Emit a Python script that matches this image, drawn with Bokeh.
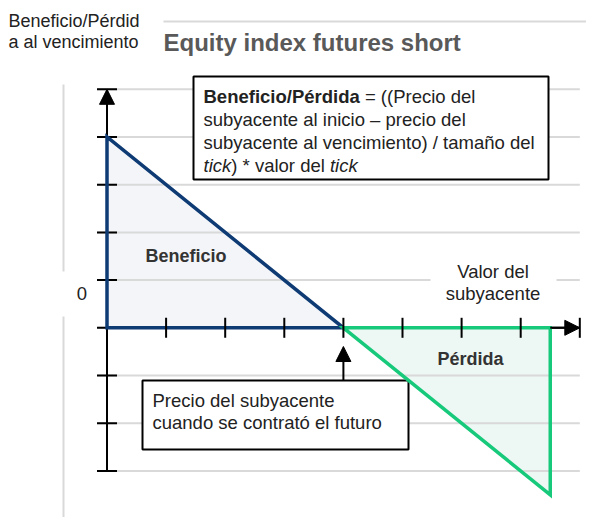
from bokeh.plotting import figure
from bokeh.models import Range1d, Arrow, NormalHead
from bokeh.core.properties import value
from bokeh.embed import file_html
from bokeh.resources import INLINE

# ---------------- data ----------------
price_ticks = [1, 2, 3, 4, 5, 6, 7]
pnl_ticks = [-3, -2, -1, 0, 1, 2, 3, 4, 5]
strike = 4
profit_x = [0, 0, 4]
profit_y = [0, 4, 0]
loss_x = [4, 7.5, 7.5]
loss_y = [0, -3.5, 0]
x_axis_end = 8
y_axis_min, y_axis_max = -3, 5

title = "Equity index futures short"
y_label_lines = ["Beneficio/Pérdid", "a al vencimiento"]
x_label_lines = ["Valor del", "subyacente"]
zero_label = "0"
profit_label = "Beneficio"
loss_label = "Pérdida"
strike_note_lines = ["Precio del subyacente", "cuando se contrató el futuro"]
formula_lines = [
    [("Beneficio/Pérdida", "bold"), (" = ((Precio del", "normal")],
    [("subyacente al inicio – precio del", "normal")],
    [("subyacente al vencimiento) / tamaño del", "normal")],
    [("tick", "italic"), (") * valor del ", "normal"), ("tick", "italic")],
]

# ---------------- layout helpers (page pixels -> data) ----------------
W, H = 586, 517
M = 0
X0, UX = 106.5, 59.1
Y0, UY = 327.3, 47.7


def dx(px):
    return (px - X0) / UX


def dy(py):
    return (Y0 - py) / UY


FONT = value("Liberation Sans")
REG = {' ': 278, '(': 333, ')': 333, '*': 389, '=': 584, '/': 278, '–': 556,
       'a': 556, 'b': 556, 'c': 500, 'd': 556, 'e': 556, 'f': 278, 'g': 556,
       'h': 556, 'i': 222, 'k': 500, 'l': 222, 'm': 833, 'n': 556, 'ñ': 556,
       'o': 556, 'p': 556, 'r': 333, 's': 500, 't': 278, 'u': 556, 'v': 500,
       'y': 500, 'P': 667, 'B': 667, 'é': 556, 'ó': 556}
BOLD = {'B': 722, 'e': 556, 'n': 611, 'f': 333, 'i': 278, 'c': 556, 'o': 611,
        '/': 278, 'P': 667, 'é': 556, 'r': 389, 'd': 611, 'a': 556}


def text_w(s, style, size):
    tab = BOLD if style == "bold" else REG
    return sum(tab.get(ch, 556) for ch in s) * size / 1000.0


p = figure(width=W, height=H, output_backend="svg", toolbar_location=None,
           x_range=Range1d(dx(M), dx(M + W)), y_range=Range1d(dy(M + H), dy(M)),
           min_border=0, outline_line_color=None, background_fill_color="white")
p.axis.visible = False
p.grid.visible = False

GRID = "#d9d9d9"
BLUE = "#0f3b75"
GREEN = "#17c97a"
TXT = "#222222"

# decorative frame lines
p.segment(x0=[dx(163)], y0=[dy(21)], x1=[dx(M + W)], y1=[dy(21)], line_color=GRID, line_width=2)
p.segment(x0=[dx(63), dx(63)], y0=[dy(84), dy(316)], x1=[dx(63), dx(63)], y1=[dy(271), dy(M + H)],
          line_color=GRID, line_width=2)

# fills
p.patch(profit_x, profit_y, fill_color="#f3f5f9", line_color=None)
p.patch(loss_x, loss_y, fill_color="#edf7f3", line_color=None)

# gridlines
p.segment(x0=[dx(97)] * len(pnl_ticks), y0=pnl_ticks, x1=[x_axis_end] * len(pnl_ticks), y1=pnl_ticks,
          line_color=GRID, line_width=2)

# white backing for axis title
p.quad(left=[dx(430)], right=[dx(556)], top=[dy(260)], bottom=[dy(304)], fill_color="white", line_color=None)

# boxes
p.quad(left=[dx(193)], right=[dx(548)], top=[dy(76)], bottom=[dy(179)],
       fill_color="white", line_color="black", line_width=2)
p.quad(left=[dx(142)], right=[dx(408)], top=[dy(380)], bottom=[dy(449)],
       fill_color="white", line_color="black", line_width=2)

# axes
p.segment(x0=[0], y0=[y_axis_min], x1=[0], y1=[y_axis_max], line_color="black", line_width=2)
p.segment(x0=[0], y0=[0], x1=[x_axis_end], y1=[0], line_color="black", line_width=2)

# y ticks (incl. caps)
tl = 10 / UX
p.segment(x0=[-tl] * len(pnl_ticks), y0=pnl_ticks, x1=[tl] * len(pnl_ticks), y1=pnl_ticks,
          line_color="black", line_width=2)

# payoff outlines
p.patch(profit_x, profit_y, fill_color=None, line_color=BLUE, line_width=3.5, line_join="miter")
p.patch(loss_x, loss_y, fill_color=None, line_color=GREEN, line_width=3.5, line_join="miter")

# x ticks (incl. cap)
th = 10 / UY
xt = price_ticks + [x_axis_end]
p.segment(x0=xt, y0=[-th] * len(xt), x1=xt, y1=[th] * len(xt), line_color="black", line_width=2)

# arrow heads
p.add_layout(Arrow(end=NormalHead(size=15, fill_color="black", line_color="black"),
                   x_start=0, y_start=y_axis_max - 0.6, x_end=0, y_end=y_axis_max,
                   line_color="black", line_width=2))
p.add_layout(Arrow(end=NormalHead(size=15, fill_color="black", line_color="black"),
                   x_start=x_axis_end - 0.5, y_start=0, x_end=x_axis_end, y_end=0,
                   line_color="black", line_width=2))
p.add_layout(Arrow(end=NormalHead(size=15, fill_color="black", line_color="black"),
                   x_start=strike, y_start=dy(380), x_end=strike, y_end=dy(346),
                   line_color="black", line_width=2))

# texts
def txt(s, px, py, size, style="normal", color=TXT, align="left"):
    p.text(x=[dx(px)], y=[dy(py)], text=[s], text_font=FONT, text_font_size=f"{size}px",
           text_font_style=style, text_color=color, text_align=align, text_baseline="middle")

txt(y_label_lines[0], 8, 20, 18)
txt(y_label_lines[1], 8, 41, 18)
txt(title, 163, 42, 24, "bold", "#595959")

FS = 18.5
for i, line in enumerate(formula_lines):
    xpos = 203
    for s, style in line:
        lead = len(s) - len(s.lstrip(" "))
        xpos += text_w(" " * lead, style, FS)
        core = s.strip(" ")
        txt(core, xpos, 96 + 23 * i, FS, style)
        xpos += text_w(s[lead:], style, FS)

txt(profit_label, 145, 255, 18, "bold", "#333333")
txt(loss_label, 437, 358, 18, "bold", "#333333")
txt(x_label_lines[0], 492.5, 271, FS, align="center")
txt(x_label_lines[1], 492.5, 293, FS, align="center")
txt(zero_label, 81.5, 293, FS, align="center")
txt(strike_note_lines[0], 152, 400, FS)
txt(strike_note_lines[1], 152, 422, FS)

open("out.html", "w").write(file_html(p, INLINE))
